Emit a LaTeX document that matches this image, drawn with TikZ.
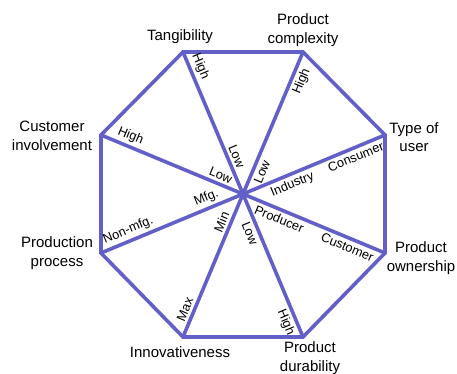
\documentclass[tikz,border=0pt]{standalone}
\usepackage{fontspec}
\setmainfont{Liberation Sans}
\begin{document}
\begin{tikzpicture}[x=1pt,y=1pt,
  edge/.style={line width=3.6pt,draw=octblue,line join=miter},
  dim/.style={font=\fontsize{15}{18.5}\selectfont,align=center},
  tag/.style={font=\fontsize{12.8}{14}\selectfont,sloped,inner sep=2.6pt}]
\definecolor{octblue}{RGB}{98,96,200}
\useasboundingbox (0,0) rectangle (457,374);
\coordinate (O) at (243,180);
\coordinate (T) at (183,322);
\coordinate (PC) at (303,322);
\coordinate (TU) at (385,239);
\coordinate (PO) at (385,121);
\coordinate (PD) at (303,37);
\coordinate (I) at (183,37);
\coordinate (PP) at (101,121);
\coordinate (CI) at (101,239);
\draw[edge] (T) -- (PC) -- (TU) -- (PO) -- (PD) -- (I) -- (PP) -- (CI) -- cycle;
\draw[edge] (O) -- (T) node[tag,above,pos=0.24] {Low} node[tag,above,pos=0.87] {High};
\draw[edge] (O) -- (PC) node[tag,below,pos=0.18] {Low} node[tag,below,pos=0.82] {High};
\draw[edge] (O) -- (TU) node[tag,below,pos=0.32] {Industry} node[tag,below,pos=0.77] {Consumer};
\draw[edge] (O) -- (PO) node[tag,below,pos=0.28] {Producer} node[tag,below,pos=0.76] {Customer};
\draw[edge] (O) -- (PD) node[tag,below,pos=0.25] {Low} node[tag,below,pos=0.87] {High};
\draw[edge] (O) -- (I) node[tag,above,pos=0.22] {Min} node[tag,above,pos=0.83] {Max};
\draw[edge] (O) -- (PP) node[tag,above,pos=0.23] {Mfg.} node[tag,above,pos=0.78] {Non-mfg.};
\draw[edge] (O) -- (CI) node[tag,above,pos=0.18] {Low} node[tag,above,pos=0.82] {High};
\node[dim] (tangibility) at (180,337) {Tangibility};
\node[dim] (complexity) at (303,344) {Product\\complexity};
\node[dim] (user) at (414,237) {Type of\\user};
\node[dim] (ownership) at (421,116) {Product\\ownership};
\node[dim] (durability) at (310,16) {Product\\durability};
\node[dim] (innov) at (180,22) {Innovativeness};
\node[dim] (process) at (57,121) {Production\\process};
\node[dim] (involvement) at (52,238) {Customer\\involvement};
\end{tikzpicture}
\end{document}
